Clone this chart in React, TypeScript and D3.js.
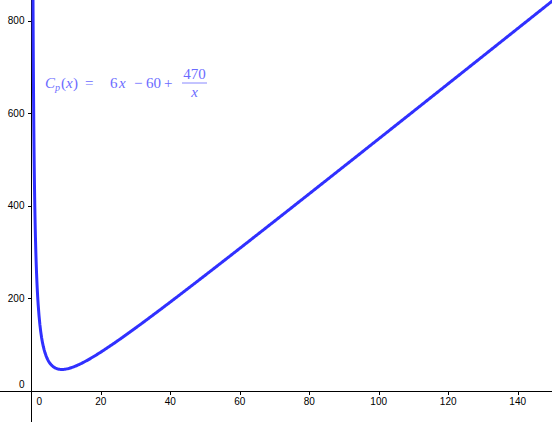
import React from "react";
import * as d3 from "d3";

const xTicks = [0, 20, 40, 60, 80, 100, 120, 140];
const yTicks = [0, 200, 400, 600, 800];
// C_p(x) = a x + b + c / x
const coefA = 6;
const coefB = -60;
const coefC = 470;

const W = 552;
const H = 422;

export default function App() {
  const x = d3.scaleLinear().domain([0, 140]).range([31.2, 517.7]);
  const y = d3.scaleLinear().domain([0, 800]).range([390.8, 20.8]);

  const xs: number[] = [];
  for (let v = 0.45; v < 2; v += 0.005) xs.push(v);
  for (let v = 2; v <= 152; v += 0.25) xs.push(v);
  const pts = xs.map((v) => [v, coefA * v + coefB + coefC / v] as [number, number]);
  const line = d3
    .line<[number, number]>()
    .x((d) => x(d[0]))
    .y((d) => y(d[1]))
    .curve(d3.curveLinear);

  const x0 = x(0);
  const y0 = y(0);
  const axisFont = "'Liberation Sans', Arial, sans-serif";
  const mathFont = "'Liberation Serif', 'DejaVu Serif', serif";
  const mathColor = "#6b6bff";

  return (
    <svg
      width={W}
      height={H}
      style={{ position: "absolute", left: 0, top: 0, background: "#fff" }}
    >
      <defs>
        <clipPath id="clip">
          <rect x={0} y={0} width={W} height={H} />
        </clipPath>
      </defs>
      {/* axes */}
      <line x1={0} x2={W} y1={Math.round(y0) + 0.5} y2={Math.round(y0) + 0.5} stroke="#000" strokeWidth={1} />
      <line x1={Math.round(x0) + 0.5} x2={Math.round(x0) + 0.5} y1={0} y2={H} stroke="#000" strokeWidth={1} />
      {xTicks.map((t) => (
        <g key={"xt" + t}>
          {t !== 0 && (
            <line
              x1={Math.round(x(t)) + 0.5}
              x2={Math.round(x(t)) + 0.5}
              y1={Math.round(y0)}
              y2={Math.round(y0) + 4}
              stroke="#000"
            />
          )}
          <text
            x={t === 0 ? x(t) + 8 : x(t)}
            y={405}
            fontFamily={axisFont}
            fontSize={10}
            textAnchor="middle"
            fill="#000"
          >
            {t}
          </text>
        </g>
      ))}
      {yTicks.map((t) => (
        <g key={"yt" + t}>
          {t !== 0 && (
            <line
              x1={Math.round(x0) - 3}
              x2={Math.round(x0)}
              y1={Math.round(y(t)) + 0.5}
              y2={Math.round(y(t)) + 0.5}
              stroke="#000"
            />
          )}
          <text
            x={24.5}
            y={t === 0 ? 388 : y(t) + 3.6}
            fontFamily={axisFont}
            fontSize={10}
            textAnchor="end"
            fill="#000"
          >
            {t}
          </text>
        </g>
      ))}
      {/* curve */}
      <path
        d={line(pts) || ""}
        fill="none"
        stroke="#3030ff"
        strokeWidth={3}
        clipPath="url(#clip)"
        strokeLinejoin="round"
      />
      {/* label */}
      <g fill={mathColor} fontFamily={mathFont} fontSize={15}>
        <text x={45} y={88} fontStyle="italic">C</text>
        <text x={55} y={91} fontStyle="italic" fontSize={10}>p</text>
        <text x={61} y={88}>(</text>
        <text x={66} y={88} fontStyle="italic">x</text>
        <text x={73} y={88}>)</text>
        <text x={85} y={88}>=</text>
        <text x={110} y={88}>6</text>
        <text x={119} y={88} fontStyle="italic">x</text>
        <text x={134} y={88}>−</text>
        <text x={146} y={88}>60</text>
        <text x={164} y={88}>+</text>
        <text x={194.5} y={79} textAnchor="middle">470</text>
        <line x1={182} x2={207} y1={83} y2={83} stroke={mathColor} strokeWidth={0.8} />
        <text x={194.5} y={97} textAnchor="middle" fontStyle="italic">x</text>
      </g>
    </svg>
  );
}
